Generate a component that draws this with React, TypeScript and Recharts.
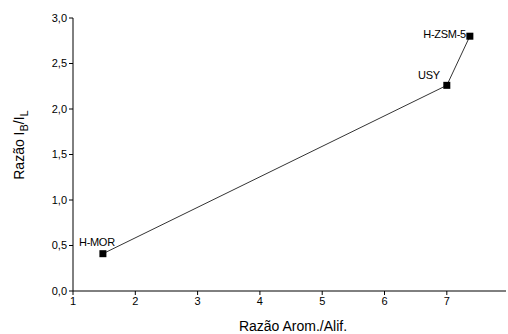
import React from 'react';
import { ScatterChart, Scatter, XAxis, YAxis, LabelList } from 'recharts';

const catalysts = ['H-MOR', 'USY', 'H-ZSM-5'];
const aromAlif = [1.48, 7.0, 7.37];
const ratioBL = [0.41, 2.26, 2.8];

const xTicks = [1, 2, 3, 4, 5, 6, 7];
const xMinor = [1, 1.5, 2, 2.5, 3, 3.5, 4, 4.5, 5, 5.5, 6, 6.5, 7, 7.5];
const yTicks = [0, 0.5, 1, 1.5, 2, 2.5, 3];
const yMinor = [0, 0.25, 0.5, 0.75, 1, 1.25, 1.5, 1.75, 2, 2.25, 2.5, 2.75, 3];

const data = catalysts.map((name, i) => ({ name, x: aromAlif[i], y: ratioBL[i] }));

const FONT = '"Liberation Sans", Arial, sans-serif';

const Square = (props: any) => {
  const { cx, cy } = props;
  return <rect x={cx - 3.5} y={cy - 3.5} width={7} height={7} fill="#000" />;
};

const PointLabel = (props: any) => {
  const { x, y, value, index } = props;
  const cx = x + 3.5;
  const cy = y + 3.5;
  // label offsets per point, as placed in the original figure
  const off = [
    { dx: -5, dy: -7, anchor: 'middle' },
    { dx: -6, dy: -5, anchor: 'end' },
    { dx: -3, dy: 3, anchor: 'end' },
  ][index];
  return (
    <text x={cx + off.dx} y={cy + off.dy} textAnchor={off.anchor} fontSize={11} fontFamily={FONT} fill="#000"
      letterSpacing={-0.3}>
      {value}
    </text>
  );
};

const YLabel = () => (
  <text transform="translate(24,145) rotate(-90)" textAnchor="middle" fontSize={14} fontFamily={FONT} fill="#000">
    Razão I<tspan fontSize={11} dy={4}>B</tspan><tspan dy={-4}>/I</tspan><tspan fontSize={11} dy={4}>L</tspan>
  </text>
);

const XLabel = () => (
  <text x={293} y={331} textAnchor="middle" fontSize={14} fontFamily={FONT} fill="#000">
    Razão Arom./Alif.
  </text>
);

export default function App() {
  const tickStyle = { fontSize: 11, fontFamily: FONT, fill: '#000' };
  return (
    <div style={{ position: 'absolute', left: 0, top: 0, background: '#fff' }}>
      <ScatterChart width={508} height={334} margin={{ top: 18, right: 2, bottom: 13, left: 0 }}>
        <XAxis type="number" dataKey="x" xAxisId="main" domain={[1, 7.95]} ticks={xTicks} allowDataOverflow
          tick={tickStyle} tickSize={4} stroke="#000" height={30} tickFormatter={(v) => String(v)}
          label={<XLabel />} />
        <XAxis type="number" dataKey="x" xAxisId="minor" domain={[1, 7.95]} ticks={xMinor} allowDataOverflow
          tick={false} tickSize={3} stroke="#000" height={0} />
        <XAxis type="number" dataKey="x" xAxisId="top" orientation="top" domain={[1, 7.95]} tick={false} tickLine={false}
          stroke="#000" height={0} />
        <YAxis type="number" dataKey="y" yAxisId="main" domain={[0, 3]} ticks={yTicks} width={73}
          tick={tickStyle} tickSize={4} stroke="#000" tickFormatter={(v) => v.toFixed(1).replace('.', ',')}
          label={<YLabel />} />
        <YAxis type="number" dataKey="y" yAxisId="minor" domain={[0, 3]} ticks={yMinor} width={0}
          tick={false} tickSize={3} stroke="#000" />
        <Scatter data={data} xAxisId="main" yAxisId="main" shape={<Square />} isAnimationActive={false}
          line={{ stroke: '#000', strokeWidth: 0.8 }} lineType="joint">
          <LabelList dataKey="name" content={<PointLabel />} />
        </Scatter>
      </ScatterChart>
    </div>
  );
}
